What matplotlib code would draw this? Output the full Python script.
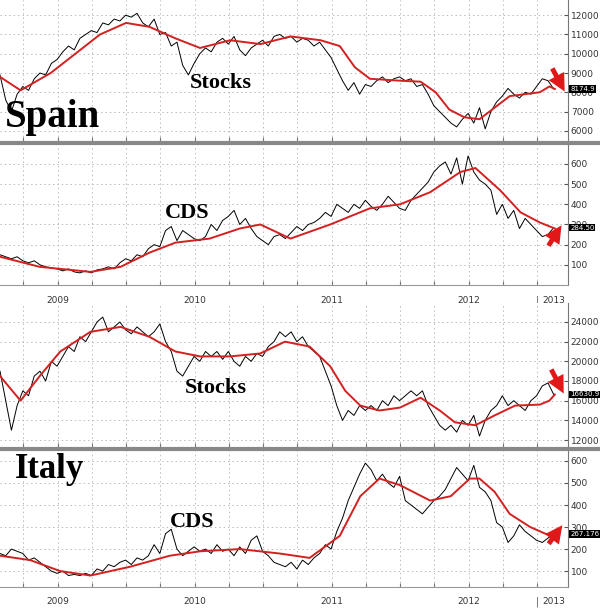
import numpy as np
import matplotlib
matplotlib.use("Agg")
import matplotlib.pyplot as plt

W, H = 600, 613

# half-month grid of observation dates (decimal years)
t = 2009.08 + np.arange(98) / 24.0

spain_stocks = [8900, 7600, 7000, 7900, 8300, 8100, 8700, 9000, 8900, 9500,
                9700, 10100, 10400, 10200, 10800, 11000, 11200, 11100, 11600, 11500,
                11800, 11700, 12000, 11900, 12100, 11600, 11400, 11800, 11000, 11100,
                10400, 10600, 9400, 8900, 9500, 10000, 10300, 10100, 10600, 10800,
                10500, 10900, 10200, 9900, 10300, 10500, 10700, 10400, 10900, 11000,
                10800, 10900, 10600, 10800, 10700, 10400, 10600, 10200, 9800, 9200,
                8600, 8100, 8500, 7900, 8400, 8300, 8600, 8800, 8500, 8700,
                8800, 8600, 8700, 8300, 8400, 7900, 7300, 7000, 6700, 6400,
                6200, 6600, 6900, 6400, 7200, 6100, 7000, 7500, 7800, 8200,
                7900, 7700, 8000, 7900, 8300, 8700, 8600, 8174.9]
spain_ma_t = [2009.08, 2009.23, 2009.45, 2009.63, 2009.81, 2010.0, 2010.17, 2010.36,
              2010.54, 2010.76, 2010.98, 2011.2, 2011.42, 2011.56, 2011.67, 2011.78,
              2012.0, 2012.15, 2012.26, 2012.36, 2012.47, 2012.58, 2012.69, 2012.8,
              2012.91, 2013.02, 2013.09, 2013.13]
spain_ma = [8800, 8100, 9000, 10000, 11000, 11600, 11400, 10800, 10300, 10700, 10500,
            10900, 10700, 10400, 9300, 8700, 8600, 8550, 8000, 7100, 6700, 6600, 7200,
            7800, 7900, 8000, 8300, 8170]

spain_cds = [150, 140, 130, 140, 120, 110, 120, 100, 90, 85,
             80, 70, 80, 65, 60, 70, 60, 75, 80, 90,
             80, 110, 130, 120, 150, 140, 180, 200, 190, 270,
             290, 220, 270, 250, 230, 220, 240, 300, 270, 320,
             340, 370, 300, 330, 280, 240, 220, 200, 240, 250,
             230, 260, 290, 270, 300, 310, 330, 360, 340, 400,
             380, 360, 400, 380, 420, 390, 370, 400, 440, 410,
             380, 370, 420, 450, 480, 510, 560, 590, 610, 550,
             630, 500, 640, 560, 520, 500, 470, 350, 400, 330,
             370, 280, 330, 300, 270, 240, 250, 284.5]
spain_cds_ma_t = [2009.08, 2009.37, 2009.74, 2009.96, 2010.17, 2010.36, 2010.61, 2010.83,
                  2010.98, 2011.2, 2011.49, 2011.78, 2012.0, 2012.22, 2012.44, 2012.55,
                  2012.73, 2012.88, 2013.02, 2013.13]
spain_cds_ma = [140, 90, 65, 90, 160, 210, 230, 280, 300, 230, 300, 380, 400, 460,
                560, 580, 470, 360, 310, 280]

italy_stocks = [19000, 16000, 13000, 15500, 17000, 16500, 18500, 19000, 18000, 20000,
                19500, 20500, 21500, 21000, 22500, 22000, 23000, 24000, 24500, 23000,
                23500, 24000, 23200, 22800, 23500, 23000, 22500, 23000, 23800, 22000,
                21000, 19000, 18500, 19500, 20500, 20000, 21000, 20500, 21000, 20200,
                21000, 20000, 19500, 20500, 20000, 20800, 20500, 21500, 22000, 23000,
                22500, 23000, 22000, 22500, 21500, 21000, 20500, 19000, 17500, 15500,
                14000, 15000, 14500, 15500, 15000, 15500, 15000, 16000, 15500, 16500,
                16000, 16500, 17000, 16500, 17000, 15500, 14500, 13500, 13000, 13500,
                12800, 14000, 13500, 14500, 12400, 14000, 15000, 15500, 16500, 15500,
                16000, 15500, 15000, 16000, 16500, 17500, 17800, 16630.9]
italy_ma_t = [2009.08, 2009.23, 2009.37, 2009.52, 2009.74, 2009.96, 2010.17, 2010.36,
              2010.54, 2010.76, 2010.98, 2011.16, 2011.34, 2011.49, 2011.6, 2011.71,
              2011.85, 2012.0, 2012.15, 2012.29, 2012.4, 2012.55, 2012.69, 2012.84,
              2013.02, 2013.09, 2013.13]
italy_ma = [18500, 16000, 18500, 21000, 23000, 23500, 22500, 21000, 20500, 20500, 20800,
            22000, 21500, 19500, 17000, 15500, 15000, 15300, 16300, 15000, 13800, 13500,
            14500, 15500, 15600, 16000, 16630]

italy_cds = [180, 170, 200, 190, 180, 150, 160, 140, 120, 100,
             90, 100, 80, 85, 80, 90, 80, 110, 100, 130,
             120, 140, 150, 130, 160, 150, 170, 220, 180, 270,
             290, 200, 170, 190, 210, 190, 200, 180, 220, 190,
             200, 170, 210, 180, 240, 260, 190, 170, 140, 130,
             120, 140, 110, 150, 130, 160, 180, 220, 200, 280,
             340, 420, 480, 540, 590, 560, 510, 540, 500, 480,
             530, 420, 400, 380, 360, 390, 420, 440, 470, 520,
             570, 540, 510, 580, 480, 460, 420, 320, 300, 230,
             260, 310, 280, 260, 240, 230, 250, 267.176]
italy_cds_ma_t = [2009.08, 2009.3, 2009.52, 2009.74, 2010.03, 2010.32, 2010.54, 2010.83,
                  2011.12, 2011.34, 2011.56, 2011.71, 2011.85, 2012.0, 2012.22, 2012.37,
                  2012.51, 2012.58, 2012.69, 2012.8, 2012.95, 2013.06, 2013.13]
italy_cds_ma = [170, 150, 100, 80, 120, 170, 190, 200, 180, 160, 260, 440, 520, 490,
                420, 440, 520, 520, 460, 360, 300, 270, 260]

years = [2009, 2010, 2011, 2012, 2013]
year_label_pos = [2009.5, 2010.5, 2011.5, 2012.5, 2013.12]

XMIN, XMAX = 2009.08, 2009.08 + 568 / 137.0


def add_panel(fig, top, bottom):
    return fig.add_axes([0, 1 - bottom / H, 568 / W, (bottom - top) / H])


def style(ax, ylim, yticks, show_years):
    ax.set_xlim(XMIN, XMAX)
    ax.set_ylim(*ylim)
    ax.yaxis.tick_right()
    ax.set_yticks(yticks)
    ax.set_yticklabels([str(v) for v in yticks], fontsize=6.5, color="#333333")
    ax.tick_params(axis="y", direction="in", length=3, pad=2, color="#555555")
    for s in ["top", "left"]:
        ax.spines[s].set_visible(False)
    ax.spines["right"].set_color("#777777")
    ax.spines["bottom"].set_color("#999999")
    ax.set_xticks(np.arange(2009.25, 2013.2, 0.25))
    ax.set_xticklabels([])
    ax.tick_params(axis="x", direction="in", length=3, color="#777777")
    ax.grid(True, linestyle=(0, (1.5, 3)), color="#bbbbbb", linewidth=0.7)
    if show_years:
        for yl, y in zip(year_label_pos, years):
            ax.text(yl, -0.11, str(y), transform=ax.get_xaxis_transform(),
                    ha="center", va="center", fontsize=6.5, color="#333333")
        ax.text(2013.0, -0.11, "|", transform=ax.get_xaxis_transform(),
                ha="center", va="center", fontsize=7, color="#555555")


def draw(ax, black, ma_t, ma, last_label):
    ax.plot(t, black, color="black", linewidth=0.7)
    ax.plot(ma_t, ma, color="#d42020", linewidth=1.4)
    ax.text(1.004, black[-1], last_label, transform=ax.get_yaxis_transform(),
            ha="left", va="center", fontsize=5, color="white", clip_on=False,
            bbox=dict(boxstyle="square,pad=0.12", fc="black", ec="none"))


def arrow(fig, x0, y0, x1, y1):
    fig.add_artist(matplotlib.patches.FancyArrowPatch(
        (x0 / W, 1 - y0 / H), (x1 / W, 1 - y1 / H), transform=fig.transFigure,
        arrowstyle="simple,head_length=0.9,head_width=0.9,tail_width=0.25",
        color="#e01818", mutation_scale=14, linewidth=0))


fig = plt.figure(figsize=(W / 100, H / 100), dpi=100)
serif = ["Liberation Serif", "DejaVu Serif"]

ax1 = add_panel(fig, 0, 141)
style(ax1, (5470, 12790), list(range(6000, 12001, 1000)), False)
draw(ax1, spain_stocks, spain_ma_t, spain_ma, "8174.9")
ax1.spines["bottom"].set_visible(False)

ax2 = add_panel(fig, 145, 285)
style(ax2, (0, 694), [100, 200, 300, 400, 500, 600], True)
draw(ax2, spain_cds, spain_cds_ma_t, spain_cds_ma, "284.50")

ax3 = add_panel(fig, 303, 447)
style(ax3, (11290, 25930), list(range(12000, 24001, 2000)), False)
draw(ax3, italy_stocks, italy_ma_t, italy_ma, "16630.9")
ax3.spines["bottom"].set_visible(False)

ax4 = add_panel(fig, 451, 587)
style(ax4, (28, 645), [100, 200, 300, 400, 500, 600], True)
draw(ax4, italy_cds, italy_cds_ma_t, italy_cds_ma, "267.176")

# thick grey separators
for y in (142.5, 449):
    fig.add_artist(matplotlib.lines.Line2D([0, 1], [1 - y / H] * 2, color="#888888",
                                           linewidth=3, transform=fig.transFigure))

fig.text(190 / W, 1 - 83 / H, "Stocks", family=serif, weight="bold", fontsize=16, va="center")
fig.text(5 / W, 1 - 118 / H, "Spain", family=serif, weight="bold", fontsize=28, va="center")
fig.text(165 / W, 1 - 213 / H, "CDS", family=serif, weight="bold", fontsize=16, va="center")
fig.text(185 / W, 1 - 388 / H, "Stocks", family=serif, weight="bold", fontsize=16, va="center")
fig.text(15 / W, 1 - 470 / H, "Italy", family=serif, weight="bold", fontsize=25, va="center")
fig.text(170 / W, 1 - 522 / H, "CDS", family=serif, weight="bold", fontsize=16, va="center")

arrow(fig, 551, 66, 566, 94)
arrow(fig, 547, 248, 563, 223)
arrow(fig, 550, 367, 565, 396)
arrow(fig, 547, 546, 564, 523)

fig.savefig("out.png", dpi=100)
